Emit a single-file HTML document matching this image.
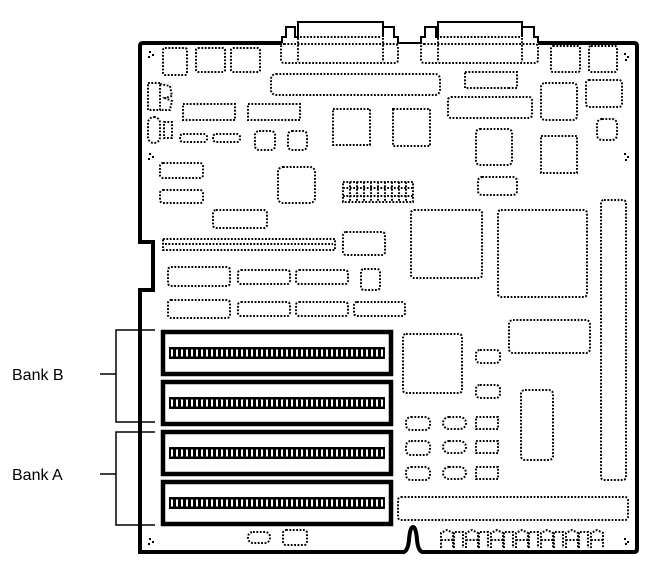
<!DOCTYPE html>
<html><head><meta charset="utf-8"><style>
html,body{margin:0;padding:0;background:#fff;}
svg{display:block;}
.d{fill:none;stroke:#000;stroke-width:2;stroke-dasharray:1.8 1.6;}
.t{font-family:"Liberation Sans",sans-serif;font-size:16px;fill:#000;}
</style></head><body>
<svg width="670" height="582" viewBox="0 0 670 582" xmlns="http://www.w3.org/2000/svg">
<path d="M282,43 L143,43 Q140,43 140,46 L140,242 L153,242 L153,290 L140,290 L140,552 L404,552 Q408,550 409,540 Q410,527 413,527 Q416,527 417,540 Q418,550 422,552 L634,552 Q637,552 637,549 L637,46 Q637,43 634,43 L538,43" fill="none" stroke="#000" stroke-width="4"/>
<path d="M282,43 L282,37 L286,37 L286,27 L295,27 L295,37 L298,37 L298,22 L383,22 L383,37 L383,27 L394,27 L394,37 L398,37 L398,43 L421,43 L421,37 L425,37 L425,27 L436,27 L436,37 L438,37 L438,22 L522,22 L522,37 L522,27 L534,27 L534,37 L538,37 L538,43" fill="none" stroke="#000" stroke-width="2"/>
<rect class="d" x="281" y="44" width="117" height="19" rx="3"/>
<line class="d" x1="298" y1="38" x2="298" y2="62"/><line class="d" x1="383" y1="38" x2="383" y2="62"/>
<line class="d" x1="300" y1="37" x2="380" y2="37"/>
<rect class="d" x="421" y="44" width="117" height="19" rx="3"/>
<line class="d" x1="438" y1="38" x2="438" y2="62"/><line class="d" x1="522" y1="38" x2="522" y2="62"/>
<line class="d" x1="440" y1="37" x2="520" y2="37"/>
<rect class="d" x="163" y="48" width="24" height="27" rx="2"/>
<rect class="d" x="196" y="48" width="29" height="24" rx="2"/>
<rect class="d" x="231" y="48" width="29" height="24" rx="2"/>
<rect class="d" x="271" y="74" width="169" height="21" rx="5"/>
<rect class="d" x="148" y="83" width="12" height="27"/>
<path class="d" d="M160,84 L170,86 L172,96 L165,98 L172,101 L170,110 L160,110"/>
<rect class="d" x="148" y="117" width="12" height="26" rx="6"/>
<rect class="d" x="164" y="122" width="8" height="16"/>
<rect class="d" x="183" y="104" width="52" height="16"/>
<rect class="d" x="248" y="104" width="52" height="16"/>
<rect class="d" x="180" y="134" width="27" height="8" rx="3"/>
<rect class="d" x="213" y="134" width="27" height="8" rx="3"/>
<rect class="d" x="255" y="131" width="20" height="19" rx="4"/>
<rect class="d" x="288" y="131" width="19" height="19" rx="4"/>
<rect class="d" x="333" y="109" width="37" height="36"/>
<rect class="d" x="393" y="109" width="37" height="37"/>
<rect class="d" x="160" y="163" width="43" height="15" rx="3"/>
<rect class="d" x="160" y="190" width="43" height="13" rx="3"/>
<rect class="d" x="278" y="167" width="37" height="36" rx="5"/>
<g class="d">
<rect x="343" y="182" width="70" height="20"/>
<path d="M343,188 L413,188 M343,196 L413,196 M350,182 L350,202 M357,182 L357,202 M364,182 L364,202 M371,182 L371,202 M378,182 L378,202 M385,182 L385,202 M392,182 L392,202 M399,182 L399,202 M406,182 L406,202"/>
</g>
<rect class="d" x="213" y="210" width="54" height="18" rx="3"/>
<rect class="d" x="163" y="239" width="172" height="11"/>
<line class="d" x1="165" y1="244" x2="333" y2="244"/>
<rect class="d" x="343" y="232" width="42" height="23" rx="3"/>
<rect class="d" x="168" y="267" width="62" height="19" rx="3"/>
<rect class="d" x="238" y="270" width="52" height="14" rx="3"/>
<rect class="d" x="296" y="270" width="52" height="14" rx="3"/>
<rect class="d" x="361" y="269" width="19" height="21" rx="3"/>
<rect class="d" x="168" y="300" width="62" height="18" rx="3"/>
<rect class="d" x="238" y="302" width="52" height="14" rx="3"/>
<rect class="d" x="296" y="302" width="52" height="14" rx="3"/>
<rect class="d" x="354" y="302" width="51" height="14" rx="3"/>
<rect class="d" x="551" y="46" width="29" height="26" rx="2"/>
<rect class="d" x="589" y="46" width="28" height="26" rx="2"/>
<rect class="d" x="465" y="72" width="52" height="16"/>
<rect class="d" x="448" y="97" width="84" height="21" rx="3"/>
<rect class="d" x="541" y="83" width="36" height="37" rx="4"/>
<rect class="d" x="586" y="80" width="36" height="27" rx="3"/>
<rect class="d" x="597" y="119" width="20" height="21" rx="5"/>
<rect class="d" x="541" y="136" width="36" height="37"/>
<rect class="d" x="476" y="129" width="36" height="36" rx="4"/>
<rect class="d" x="478" y="177" width="39" height="18" rx="4"/>
<rect class="d" x="411" y="210" width="71" height="68" rx="3"/>
<rect class="d" x="498" y="210" width="89" height="87" rx="3"/>
<rect class="d" x="601" y="200" width="25" height="280" rx="3"/>
<rect class="d" x="509" y="320" width="81" height="33" rx="4"/>
<rect class="d" x="403" y="334" width="59" height="59" rx="3"/>
<rect class="d" x="476" y="350" width="24" height="13" rx="4"/>
<rect class="d" x="476" y="385" width="24" height="13" rx="4"/>
<rect class="d" x="521" y="390" width="32" height="70" rx="4"/>
<g class="d">
<rect x="406" y="417" width="24" height="13" rx="5"/><rect x="443" y="417" width="23" height="12" rx="6"/><rect x="476" y="417" width="22" height="12"/>
<rect x="406" y="441" width="24" height="14" rx="5"/><rect x="443" y="441" width="23" height="12" rx="6"/><rect x="476" y="441" width="22" height="12"/>
<rect x="406" y="467" width="24" height="13" rx="5"/><rect x="443" y="467" width="23" height="12" rx="6"/><rect x="476" y="467" width="22" height="12"/>
</g>
<rect class="d" x="398" y="497" width="230" height="23" rx="3"/>
<g class="d">
<path d="M441,548 L441,533 L447,530 L453,533 L453,548 M441,540 L453,540"/>
<path d="M466,548 L466,533 L472,530 L478,533 L478,548 M466,540 L478,540"/>
<path d="M491,548 L491,533 L497,530 L503,533 L503,548 M491,540 L503,540"/>
<path d="M516,548 L516,533 L522,530 L528,533 L528,548 M516,540 L528,540"/>
<path d="M541,548 L541,533 L547,530 L553,533 L553,548 M541,540 L553,540"/>
<path d="M566,548 L566,533 L572,530 L578,533 L578,548 M566,540 L578,540"/>
<path d="M591,548 L591,533 L597,530 L603,533 L603,548 M591,540 L603,540"/>
<path d="M454,548 L454,532 L463,532 L463,548 M479,548 L479,532 L488,532 L488,548 M504,548 L504,532 L513,532 L513,548 M529,548 L529,532 L538,532 L538,548 M554,548 L554,532 L563,532 L563,548 M579,548 L579,532 L588,532 L588,548"/>
</g>
<rect class="d" x="248" y="532" width="22" height="11" rx="5"/>
<rect class="d" x="283" y="530" width="24" height="15" rx="3"/>
<g fill="#000">
<rect x="149" y="51" width="2" height="2"/><rect x="152" y="54" width="2" height="2"/><rect x="148" y="56" width="2" height="2"/>
<rect x="149" y="153" width="2" height="2"/><rect x="152" y="156" width="2" height="2"/><rect x="148" y="158" width="2" height="2"/>
<rect x="624" y="53" width="2" height="2"/><rect x="627" y="56" width="2" height="2"/><rect x="625" y="59" width="2" height="2"/>
<rect x="624" y="153" width="2" height="2"/><rect x="627" y="156" width="2" height="2"/><rect x="625" y="159" width="2" height="2"/>
<rect x="149" y="538" width="2" height="2"/><rect x="152" y="541" width="2" height="2"/><rect x="148" y="543" width="2" height="2"/>
<rect x="624" y="538" width="2" height="2"/><rect x="627" y="541" width="2" height="2"/><rect x="625" y="543" width="2" height="2"/>
</g>
<g>
<rect x="163" y="332" width="228" height="42" fill="none" stroke="#000" stroke-width="4.5"/>
<rect x="169" y="347" width="216" height="12" fill="#000"/>
<line x1="171" y1="353" x2="383" y2="353" stroke="#fff" stroke-width="7" stroke-dasharray="2 3"/>
<rect x="163" y="382" width="228" height="42" fill="none" stroke="#000" stroke-width="4.5"/>
<rect x="169" y="397" width="216" height="12" fill="#000"/>
<line x1="171" y1="403" x2="383" y2="403" stroke="#fff" stroke-width="7" stroke-dasharray="2 3"/>
<rect x="163" y="432" width="228" height="42" fill="none" stroke="#000" stroke-width="4.5"/>
<rect x="169" y="447" width="216" height="12" fill="#000"/>
<line x1="171" y1="453" x2="383" y2="453" stroke="#fff" stroke-width="7" stroke-dasharray="2 3"/>
<rect x="163" y="482" width="228" height="42" fill="none" stroke="#000" stroke-width="4.5"/>
<rect x="169" y="497" width="216" height="12" fill="#000"/>
<line x1="171" y1="503" x2="383" y2="503" stroke="#fff" stroke-width="7" stroke-dasharray="2 3"/>
</g>
<path d="M155,330 L116,330 L116,422 L155,422 M100,374 L116,374" fill="none" stroke="#000" stroke-width="1.5"/>
<path d="M155,432 L116,432 L116,525 L155,525 M100,474 L116,474" fill="none" stroke="#000" stroke-width="1.5"/>
<text class="t" x="12" y="380">Bank B</text>
<text class="t" x="12" y="480">Bank  A</text>
</svg>
</body></html>
